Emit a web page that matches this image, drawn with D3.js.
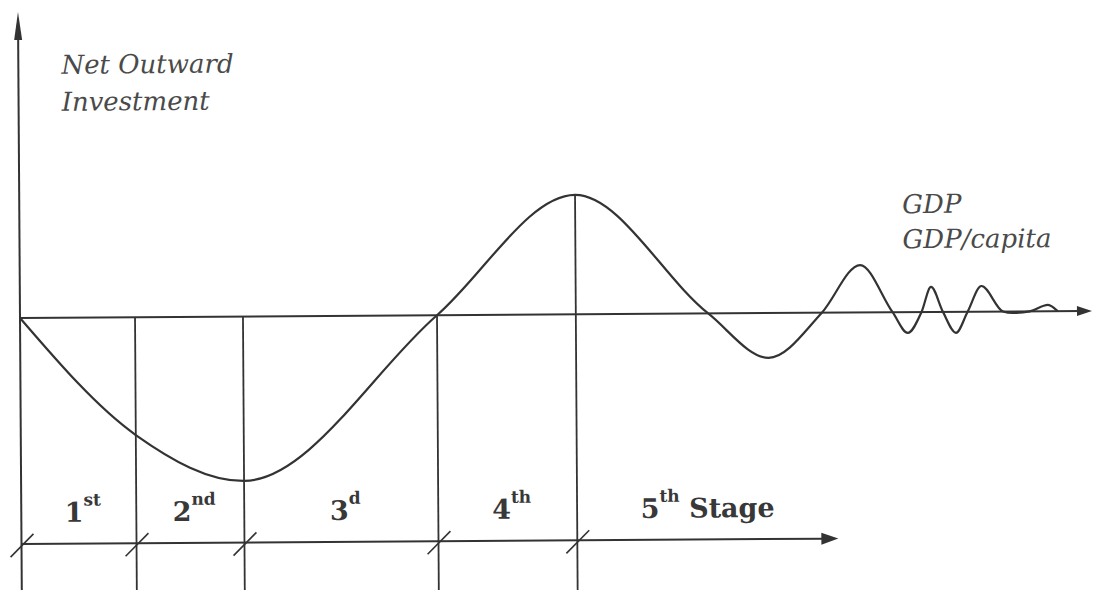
<!DOCTYPE html>
<html>
<head>
<meta charset="utf-8">
<title>Investment Development Path</title>
<script src="https://d3js.org/d3.v7.min.js"></script>
<style>
  body { margin: 0; background: #fff; }
  svg { display: block; }
  .ink { stroke: #333; fill: none; }
  .lbl { font-family: "DejaVu Serif", serif; font-style: italic; fill: #4a4a4a; }
  .stage { font-family: "DejaVu Serif", serif; font-weight: bold; fill: #383838; }
</style>
</head>
<body>
<div id="chart"></div>
<script>
// curve: development time (x) vs net outward investment (y)
// (turning points and zero crossings)
var timeVals = [0, 10.73, 20.8, 38.9, 51.85, 64.2, 69.8, 74.8, 78.4, 81.4,
                82.8, 84.1, 85.0, 86.1, 87.3, 88.4, 89.7, 91.7, 92.6, 94.2,
                95.9, 96.8];
var noiVals = [0, -58.9, -82.2, 0, 59.7, 0, -22.4, 0, 23.7, 0,
               -10.4, 0, 12.5, 0, -10.5, 0, 12.8, 0, -0.8, 0,
               3.2, 0];

// stage boundaries on the time axis, and the end of the stage arrow
var stageBounds = [0, 10.73, 20.8, 38.9, 51.85];
var stageEnd = 76.2;
var stageNums = ["1", "2", "3", "4", "5"];
var stageSups = ["st", "nd", "d", "th", "th"];
var stageTail = ["", "", "", "", " Stage"];

var yLabel = ["Net Outward", "Investment"];
var xLabel = ["GDP", "GDP/capita"];

var W = 1096, H = 590;
var x0 = 20, zeroY = 318, stageY = 544;

var x = d3.scaleLinear().domain([0, 100]).range([x0, 1092]);
var y = d3.scaleLinear().domain([-100, 100]).range([zeroY + 200, zeroY - 200]);

var svg = d3.select("#chart").append("svg").attr("width", W).attr("height", H);

// the scanned figure sits slightly tilted
var g = svg.append("g").attr("transform", "rotate(-0.38," + x0 + "," + zeroY + ")");

function arrow(tipX, tipY, dir, len, half) {
    // dir: "up" or "right"
    var pts = dir == "up"
        ? [[tipX, tipY], [tipX - half, tipY + len], [tipX + half, tipY + len]]
        : [[tipX, tipY], [tipX - len, tipY - half], [tipX - len, tipY + half]];
    g.append("path").attr("d", "M" + pts.join("L") + "Z").attr("fill", "#333");
}

// y axis
g.append("line").attr("class", "ink").attr("stroke-width", 2)
    .attr("x1", x(0)).attr("x2", x(0)).attr("y1", 600).attr("y2", 20);
arrow(x(0), 12, "up", 28, 4);

// zero line / GDP axis
g.append("line").attr("class", "ink").attr("stroke-width", 2)
    .attr("x1", x(0)).attr("x2", x(100) - 10).attr("y1", y(0)).attr("y2", y(0));
arrow(x(100), y(0), "right", 15, 5);

// value of curve at a boundary
function noiAt(t) {
    var i = d3.bisectLeft(timeVals, t);
    if (timeVals[i] === t) return noiVals[i];
    if (i <= 0) return noiVals[0];
    var t0 = timeVals[i - 1], t1 = timeVals[i];
    return noiVals[i - 1] + (noiVals[i] - noiVals[i - 1]) * (t - t0) / (t1 - t0);
}

// stage verticals
g.selectAll(".vline").data(stageBounds.slice(1)).enter().append("line")
    .attr("class", "ink vline").attr("stroke-width", 1.8)
    .attr("x1", d => x(d)).attr("x2", d => x(d))
    .attr("y1", d => y(Math.max(0, noiAt(d)))).attr("y2", 600);

// stage axis
g.append("line").attr("class", "ink").attr("stroke-width", 2)
    .attr("x1", x(0)).attr("x2", x(stageEnd) - 12).attr("y1", stageY).attr("y2", stageY);
arrow(x(stageEnd), stageY, "right", 17, 6);

g.selectAll(".tick").data(stageBounds).enter().append("line")
    .attr("class", "ink tick").attr("stroke-width", 1.6)
    .attr("x1", d => x(d) - 11).attr("y1", stageY + 13)
    .attr("x2", d => x(d) + 12).attr("y2", stageY - 10);

// the curve
var pts = timeVals.map((t, i) => [t, noiVals[i]]);
g.append("path").datum(pts).attr("class", "ink").attr("stroke-width", 2.2)
    .attr("d", d3.line().x(d => x(d[0])).y(d => y(d[1])).curve(d3.curveMonotoneX));

// stage labels
var stageMid = stageBounds.map((b, i) => (b + (i < stageBounds.length - 1 ? stageBounds[i + 1] : stageEnd)) / 2);
var st = g.selectAll(".stage").data(stageNums).enter().append("text")
    .attr("class", "stage").attr("text-anchor", "middle")
    .attr("x", (d, i) => x(stageMid[i]) + (i < 4 ? 4 : 0)).attr("y", 522)
    .attr("font-size", 27);
st.append("tspan").text(d => d);
st.append("tspan").attr("font-size", 17).attr("dy", -16).text((d, i) => stageSups[i]);
st.append("tspan").attr("dy", 16).text((d, i) => stageTail[i]);

// axis titles
g.selectAll(".ylab").data(yLabel).enter().append("text")
    .attr("class", "lbl").attr("font-size", 26)
    .attr("x", 63).attr("y", (d, i) => 74 + i * 37).text(d => d);

g.selectAll(".xlab").data(xLabel).enter().append("text")
    .attr("class", "lbl").attr("font-size", 26)
    .attr("x", 903).attr("y", (d, i) => 219 + i * 35).text(d => d);
</script>
</body>
</html>
